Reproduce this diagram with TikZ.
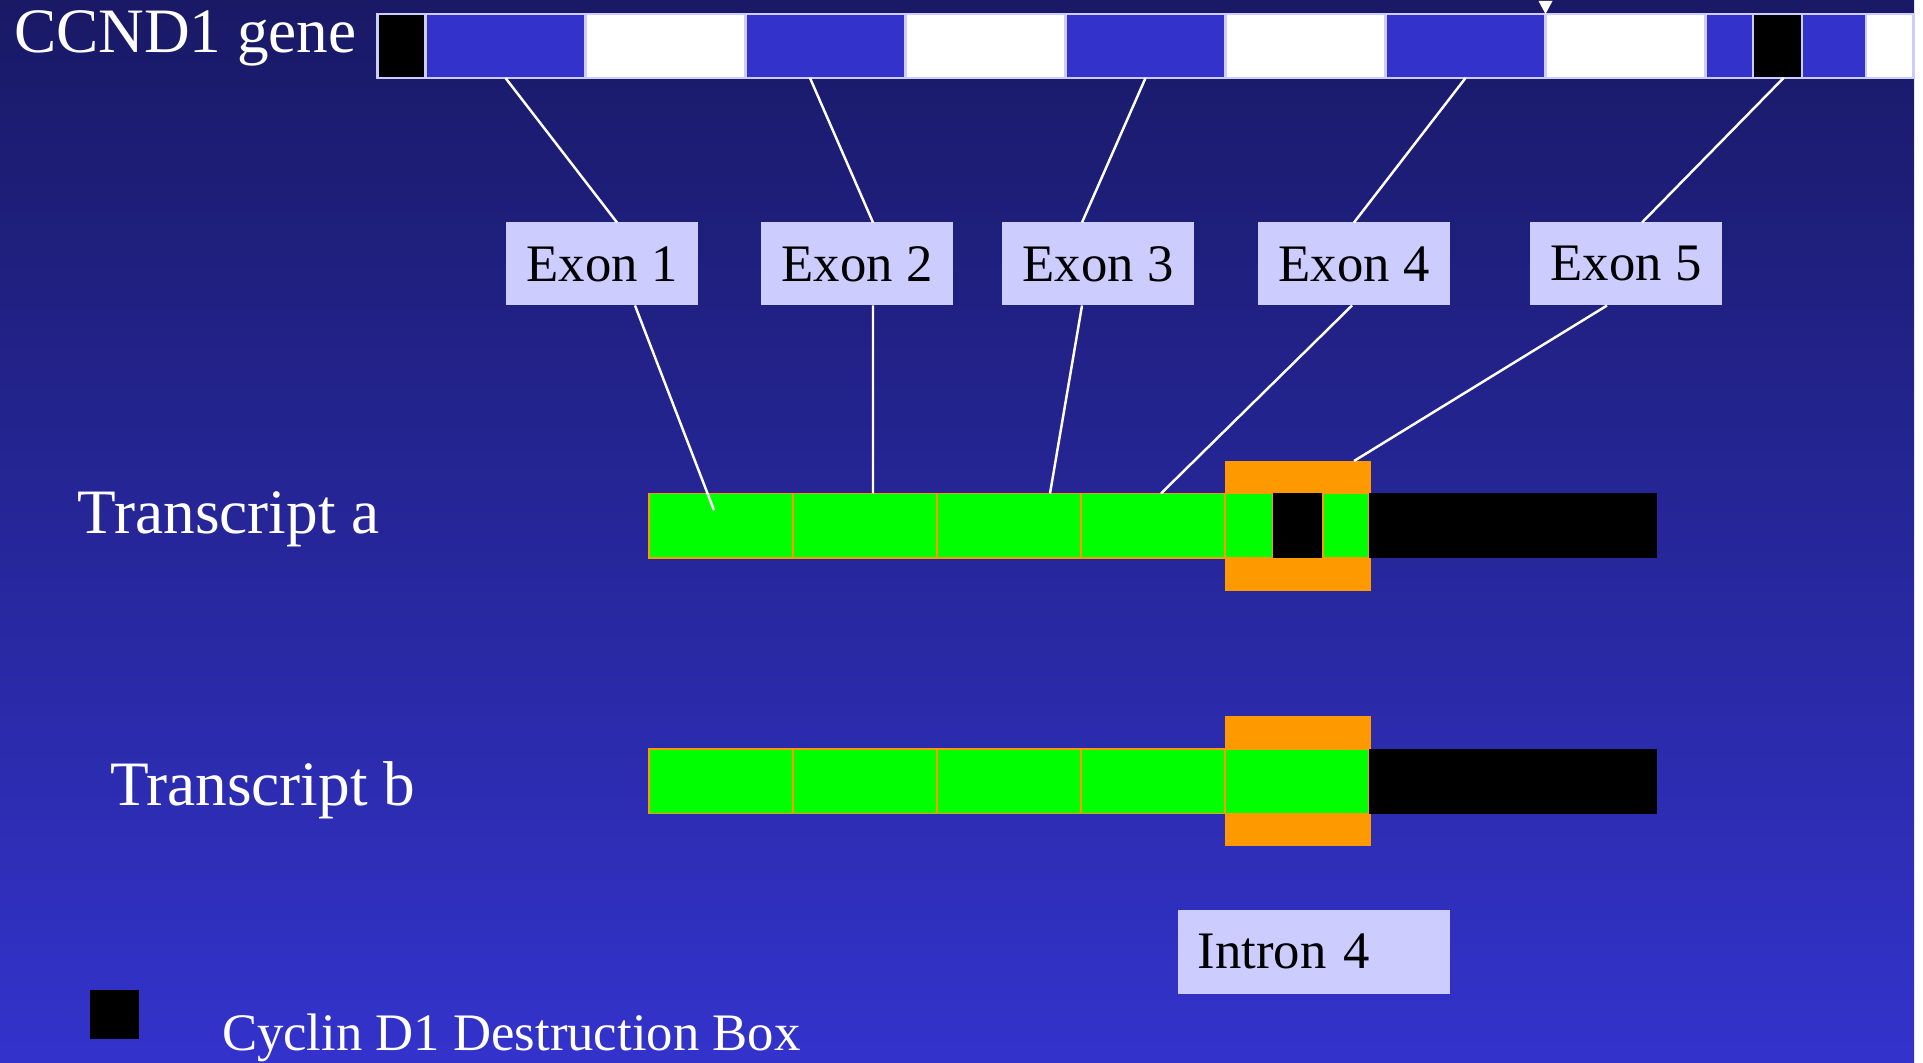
\documentclass[tikz,border=0pt]{standalone}
\usepackage{fontspec}
\setmainfont{Liberation Serif}
\usetikzlibrary{positioning}

\definecolor{bgtop}{HTML}{191966}
\definecolor{bgbottom}{HTML}{3333CC}
\definecolor{exonblue}{HTML}{3333CC}
\definecolor{lavender}{HTML}{CCCCFF}
\definecolor{cdsgreen}{HTML}{00FF00}
\definecolor{intronorange}{HTML}{FF9900}

\begin{document}
\begin{tikzpicture}[every node/.style={inner sep=0pt, outer sep=0pt},
	seg/.style={draw=lavender, line width=0.6pt, minimum height=0.64cm},
	cds/.style={fill=cdsgreen, draw=intronorange, line width=0.5pt, minimum width=1.44cm, minimum height=0.645cm},
	utr/.style={fill=black, minimum width=2.88cm, minimum height=0.645cm},
	intron/.style={fill=intronorange, minimum width=1.46cm, minimum height=1.3cm},
	tag/.style={fill=lavender, text=black, font=\fontsize{15}{18}\selectfont, minimum width=1.92cm, minimum height=0.83cm},
	title/.style={text=white, font=\fontsize{18}{22}\selectfont, anchor=base west},
	link/.style={white, line width=0.7pt}]
	% slide background
	\fill[white] (0,0) rectangle (19.23,10.62);
	\shade[top color=bgtop, bottom color=bgbottom] (0,0) rectangle (19.14,10.62);
	\useasboundingbox (0,0) rectangle (19.23,10.62);
	% the gene, exons in blue, introns in white
	\node[seg, fill=black, minimum width=0.48cm, anchor=south west] (g1) at (3.775,9.84) {};
	\node[seg, fill=exonblue, minimum width=1.6cm, right=0pt of g1] (g2) {};
	\node[seg, fill=white, minimum width=1.6cm, right=0pt of g2] (g3) {};
	\node[seg, fill=exonblue, minimum width=1.6cm, right=0pt of g3] (g4) {};
	\node[seg, fill=white, minimum width=1.6cm, right=0pt of g4] (g5) {};
	\node[seg, fill=exonblue, minimum width=1.6cm, right=0pt of g5] (g6) {};
	\node[seg, fill=white, minimum width=1.6cm, right=0pt of g6] (g7) {};
	\node[seg, fill=exonblue, minimum width=1.6cm, right=0pt of g7] (g8) {};
	\node[seg, fill=white, minimum width=1.6cm, right=0pt of g8] (g9) {};
	\node[seg, fill=exonblue, minimum width=0.475cm, right=0pt of g9] (g10) {};
	\node[seg, fill=black, minimum width=0.49cm, right=0pt of g10] (g11) {};
	\node[seg, fill=exonblue, minimum width=0.64cm, right=0pt of g11] (g12) {};
	\node[seg, fill=white, minimum width=0.475cm, right=0pt of g12] (g13) {};
	\fill[white] (g9.north west) -- ++(-0.07,0.13) -- ++(0.14,0) -- cycle;
	\node[title] (gene) at (0.14,10.09) {CCND1 gene};
	% exon labels
	\node[tag] (e1) at (6.02,7.98) {Exon 1};
	\node[tag] (e2) at (8.57,7.98) {Exon 2};
	\node[tag] (e3) at (10.98,7.98) {Exon 3};
	\node[tag] (e4) at (13.54,7.98) {Exon 4};
	\node[tag] (e5) at (16.26,7.98) {Exon 5};
	% transcript a
	\node[intron, anchor=south west] (ia) at (12.25,4.71) {};
	\node[cds, anchor=south west] (ta1) at (6.49,5.04) {};
	\node[cds, right=0pt of ta1] (ta2) {};
	\node[cds, right=0pt of ta2] (ta3) {};
	\node[cds, right=0pt of ta3] (ta4) {};
	\node[cds, minimum width=0.48cm, right=0pt of ta4] (ta5) {};
	\node[fill=black, minimum width=0.5cm, minimum height=0.645cm, right=0pt of ta5] (dboxa) {};
	\node[cds, minimum width=0.46cm, right=0pt of dboxa] (ta6) {};
	\node[utr, right=0pt of ta6] (taila) {};
	\node[title] (tra) at (0.78,5.28) {Transcript a};
	% transcript b
	\node[intron, anchor=south west] (ib) at (12.25,2.16) {};
	\node[cds, anchor=south west] (tb1) at (6.49,2.485) {};
	\node[cds, right=0pt of tb1] (tb2) {};
	\node[cds, right=0pt of tb2] (tb3) {};
	\node[cds, right=0pt of tb3] (tb4) {};
	\node[cds, right=0pt of tb4] (tb5) {};
	\node[utr, right=0pt of tb5] (tailb) {};
	\node[title] (trb) at (1.10,2.57) {Transcript b};
	% gene -> label -> transcript
	\draw[link] (g2.south) -- ([xshift=1.5mm]e1.north);
	\draw[link] ([xshift=3.3mm]e1.south) -- ([shift={(-0.07,0.155)}]ta1.center);
	\draw[link] ([xshift=-1.55mm]g4.south) -- ([xshift=1.6mm]e2.north);
	\draw[link] ([xshift=1.6mm]e2.south) -- ([xshift=0.8mm]ta2.north);
	\draw[link] (g6.south) -- ([xshift=-1.6mm]e3.north);
	\draw[link] ([xshift=-1.6mm]e3.south) -- ([xshift=4.1mm]ta3.north);
	\draw[link] (g8.south) -- (e4.north);
	\draw[link] ([xshift=-0.2mm]e4.south) -- ([xshift=0.8mm]ta4.north);
	\draw[link] ([xshift=0.6mm]g11.south) -- ([xshift=1.6mm]e5.north);
	\draw[link] ([xshift=-1.9mm]e5.south) -- ([xshift=5.6mm]ia.north);
	% intron label and legend
	\node[tag, text width=2.325cm, inner xsep=0.2cm, minimum height=0.835cm, align=left] (i4) at (13.1375,1.1025) {Intron 4};
	\node[fill=black, minimum size=0.49cm, anchor=south west] (dbox) at (0.895,0.232) {};
	\node[text=white, font=\fontsize{15}{18}\selectfont, anchor=base west] (dlabel) at (2.22,0.113) {Cyclin D1 Destruction Box};
\end{tikzpicture}
\end{document}
